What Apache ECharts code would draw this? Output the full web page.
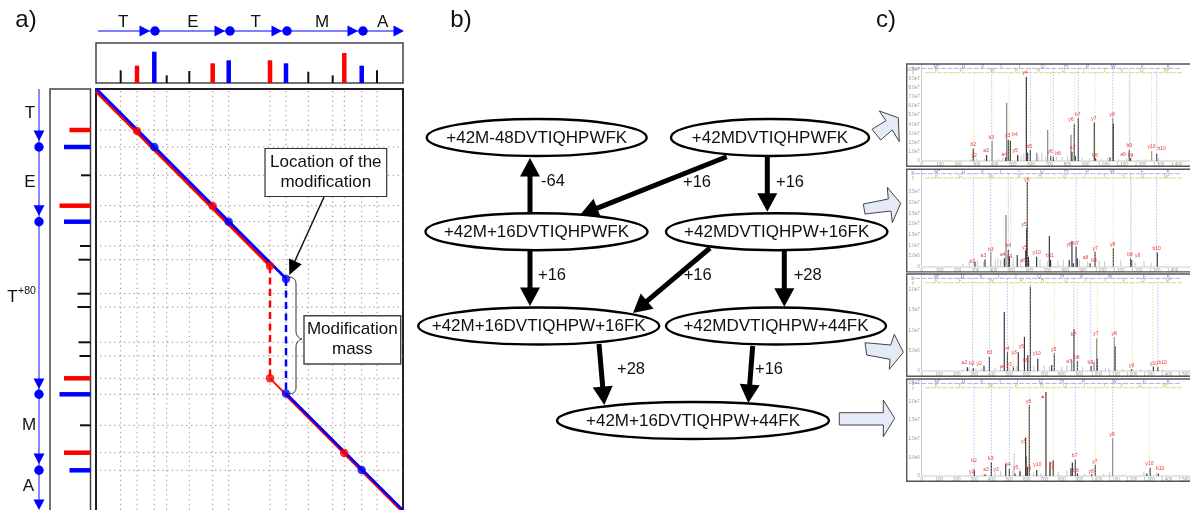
<!DOCTYPE html>
<html><head><meta charset="utf-8">
<style>html,body{margin:0;padding:0;background:#fff}#c{width:1190px;height:510px}</style>
<script src="https://cdn.jsdelivr.net/npm/echarts@6/dist/echarts.min.js"></script>
</head><body><div id="c"></div>
<script>
// ---------- Panel a data: mass position, peak height ----------
const topBlack = [[24.7,12.7],[70.7,7.7],[93.3,12],[212.3,11.3],[236.7,7.7],[281,12.7]];
const topRed   = [[41,17.3],[116.7,19.7],[174,22.7],[248.3,30]];
const topBlue  = [[58.3,31.3],[132.7,22.7],[190,19.7],[265.7,17.3]];
const leftBlack = [[86.3,9.5],[157,10.5],[170.7,12],[204.7,13],[218,13],[253.3,12],[267,11],[336.3,10.5]];
const leftRed   = [[41,21],[116.7,31],[289.3,26.5],[363.7,26.5]];
const leftBlue  = [[58,26.5],[132.7,26.5],[305.3,31],[381.3,21]];
const redTop = [[0,2],[174,176.5]];
const blueTop = [[0,-0.5],[190,189.5]];
const redJoin = [[174,289.3],[190,305.5]];
const redBottom = [[190,305.5],[310,425.5]];
const blueBottom = [[190,304.3],[310,424.3]];
const redGap = [[174,177],[174,289.3]];
const blueGap = [[190,190],[190,304.5]];
const redMatches = [[41,42],[116.7,117],[174,177],[174,289.3],[248.3,364]];
const blueMatches = [[58.3,58],[132.7,132.7],[190,190],[190,304.5],[265.7,381]];
const residuesTop = ['T','E','T','M','A'];
const residuesLeft = ['T','E','T','M','A'];

// ---------- Panel b data ----------
const peptides = ['+42M-48DVTIQHPWFK','+42MDVTIQHPWFK','+42M+16DVTIQHPWFK','+42MDVTIQHPW+16FK',
  '+42M+16DVTIQHPW+16FK','+42MDVTIQHPW+44FK','+42M+16DVTIQHPW+44FK'];
const massShifts = ['-64','+16','+16','+16','+16','+28','+28','+16'];

// ---------- Panel c data: m/z, intensity ----------
const spec1Dark = [[283,1.35],[356,.65],[461,.4],[475,2.3],[486,2.2],[526,.65],[574,9.2],[581,.9],[596,1.2],[707,.55],[722,.4],[824,1],[837,4.05],[843,.55],[859,4.65],[947,4.2],[954,.3],[1033,.4],[1051,4.05],[1139,1.2],[1146,.3],[1289,.75]];
const spec1Mid = [[386,2.2],[466,6.35],[631,.9],[691,3.4],[819,2.85],[1048,4.65],[1261,1.1]];
const spec1Noise = [[210,.15],[270,.2],[300,.25],[345,.3],[420,.25],[445,.4],[530,.5],[545,.6],[560,.8],[640,.45],[660,.9],[680,.5],[740,.5],[770,.4],[800,.6],[880,.35],[920,.3],[985,.25],[1020,.35],[1080,.2],[1125,.3],[1190,.2],[1230,.25],[1300,.3],[1340,.15]];
const spec2Dark = [[297,2.3],[353,3.4],[461,3.9],[483,7.8],[489,4.7],[533,5.5],[585,18],[589,39.8],[580,7.8],[595,4.7],[641,4.7],[712,14.4],[719,3.1],[823,3.1],[838,12],[846,1.6],[861,9.4],[868,3.9],[939,1.6],[967,7],[1069,8.6],[1165,3.9],[1171,3.1],[1314,6.7]];
const spec2Mid = [[385,7],[470,24.2]];
const spec2Noise = [[230,1.5],[265,2.7],[310,3],[345,2],[410,3.5],[425,4],[440,3],[510,4.5],[550,3.5],[600,3],[660,3.4],[700,2.6],[760,2.8],[790,3.2],[880,3.3],[925,2.5],[990,3],[1020,2.6],[1110,3],[1190,2],[1240,2.6],[1280,1.7]];
const spec3Dark = [[261,.9],[295,.65],[356,1.3],[387,3.5],[472,14.5],[490,4.6],[524,1.1],[552,4.6],[587,8.4],[606,3.9],[621,20.7],[663,3],[743,1.5],[758,4.3],[870,10.3],[890,2.5],[968,1.2],[1004,3.1],[1105,6.1],[1200,.5],[1324,1.1],[1349,.9]];
const spec3Mid = [[857,2.7],[985,2.3],[1000,8],[1101,8.4]];
const spec3Noise = [[235,.5],[270,.8],[310,.6],[340,.7],[420,.8],[450,1],[500,1],[540,1.2],[640,1.3],[700,1.4],[730,1.2],[800,1],[830,1.5],[920,1],[1050,.7],[1070,.8],[1150,.5],[1250,.5],[1300,.4],[1380,.4]];
const spec4Dark = [[301,1.6],[362,.5],[398,3.6],[480,3.2],[501,1.9],[533,.7],[562,1.2],[594,10.3],[596,5.2],[615,19],[604,2.5],[657,1.6],[710,22.5],[733,3.8],[752,4.3],[853,2.1],[861,3.6],[878,4.3],[890,.7],[971,.5],[992,3],[1286,.7],[1305,2.2],[1352,.7]];
const spec4Mid = [[1091,10]];
const spec4Noise = [[528,6],[280,.4],[350,.5],[420,1],[450,1.3],[520,1.5],[560,2],[640,1],[680,.6],[730,1.7],[780,1.2],[830,1.6],[930,.6],[1040,.5],[1075,1],[1150,.4],[1270,1.2],[1340,.8],[1400,.3]];

const ions1 = [['b2',283,1.78],['y2',287,.55],['a3',353,1.09],['b3',382,2.58],['a4',453,.73],['y3',472,2.73],['b4',512,2.84],['y5',512,1.13],['y4',567,9.6],['b5',590,1.56],['y6',704,1.02],['b6',748,.8],['y6',819,4.55],['b7',856,5.05],['a7',828,1.45],['y7',945,4.58],['b8',951,.55],['y8',1044,5.09],['a9',1104,.73],['b9',1139,1.67],['b9',1146,.55],['y10',1261,1.53],['b10',1316,1.31]];
const ions2 = [['b2',284,2.3],['a3',344,5.2],['b3',385,8],['a4',452,5.6],['b4',483,9.7],['y4',489,4.5],['y5',571,19.7],['y5',574,9],['a5',567,2.7],['y6',586,40.6],['y10',641,6.7],['b11',716,5],['y8',823,10.5],['b7',861,10.9],['a8',914,4.1],['b8',961,3],['y7',967,8.4],['y8',1065,10.3],['b9',1162,5.6],['y9',1204,5.2],['b10',1310,8.4]];
const ions3 = [['a2',244,2],['b2',286,1.7],['y2',328,1.8],['b3',387,4.4],['a4',463,1.15],['y3',499,1.5],['b4',486,5.5],['y3',528,4.4],['y5',570,5.9],['b5',596,2.5],['y10',657,4.3],['y5',754,5.3],['a7',842,2.4],['b7',867,8.9],['b8',886,3.4],['b9',964,2.1],['y7',996,9.3],['y8',1099,9.3],['y9',1200,1.2],['y10',1328,1.8],['b10',1377,2]];
const ions4 = [['y2',286,1.2],['b2',299,4.1],['a3',368,1.6],['b3',394,4.6],['y3',425,1.6],['b4',493,3],['y5',537,2.2],['y5',583,9.1],['y6',611,20],['b5',610,2],['y10',661,3],['y9',743,3],['y9',743,2],['b7',874,5.4],['b8',882,1.5],['y8',968,1.1],['y7',989,3.8],['y8',1088,11],['y10',1301,3.2],['b10',1362,2],['▲',691,21.4]];

const bSeq = ['M*','D','V','T','I','Q','H','P','W','F','K'];
const ySeq = ['K','F','W','P','H','Q','I','T','V','D','M*'];
const bRow1 = [82,229,333,435,536,664,792,909,1051,1212,1353], yRow1 = [82,216,388,521,640,777,890,1002,1097,1207,1344];
const bRow2 = [87,232,338,441,543,669,805,924,1063,1230,1375], yRow2 = [84,214,387,543,660,796,911,1019,1125,1230,1366];
const bRow3 = [86,234,339,438,539,670,802,916,1076,1272,1410], yRow3 = [82,219,400,571,691,825,939,1048,1152,1263,1410];
const bRow4 = [91,238,343,448,547,680,802,924,1101,1272,1410], yRow4 = [82,219,394,543,686,819,928,1044,1143,1248,1394];
const bGuide1 = [384,596,722,859,1048,1139,1289], yGuide1 = [287,479,707,839,951,1143,1261];
const bGuide2 = [288,385,483,861,1165,1310], yGuide2 = [496,589,967,1069,1171];
const bGuide3 = [291,387,490,621,870,966,1349], yGuide3 = [524,758,890,1004,1101,1204,1320];
const bGuide4 = [299,398,501,878,1091], yGuide4 = [615,752,992,1301];

// ---------- Layout (pixels of the figure) ----------
const nodeBox = [[536.7,137.5,110],[770,137.5,99],[536.5,231.7,111],[776.7,231.7,110.7],[538.7,326,120.5],[776,326,110],[693,420.5,136]];
const edgeLines = [[530,212,530,158],[726.7,156.7,580,215],[767.3,156.7,767.3,211.7],[530,251,530,306],[710,248,633,313],[784.3,251,784.3,306.7],[599,344,604.3,405],[752.7,346,748.3,403]];
const shiftPos = [[553,181],[697,182],[790,182],[552,275],[697.7,275.7],[807.7,275],[631,369],[769,369]];
const blockArrows = [
 [[872,129.3],[886,120.7],[879.3,111],[898.3,117.7],[899.3,141.7],[892.3,130],[880.7,140]],
 [[863.3,204],[888.3,199],[887.3,187.3],[900.7,203.3],[892.3,222.7],[891,211],[865,214]],
 [[865,342.7],[890.7,345],[894.3,334.3],[903.3,352.3],[889.3,369.3],[890,359.3],[866.7,355]],
 [[839.3,412.7],[883.3,412.7],[883.3,400],[894.7,418.3],[883.3,436.7],[883.3,425],[839.3,425]]];
const topNodes = [155,230,287,363], topHeads = [150,225,282,358,404];
const topLetterX = [123.3,193,255.7,322,382.7];
const leftNodes = [147,221.7,394.3,470.3], leftHeads = [141,215.7,389,464,510];
const leftLetterY = [113,182.3,297,425,486.7], leftLetterX = [30,30,12.5,29,28.3];
const frames = [{top:64,base:161,max:10.58},{top:169.3,base:266.7,max:45.6},{top:274,base:371,max:23.85},{top:379,base:476,max:26}];

const F = '"Liberation Sans",Arial,sans-serif';
const hidden = (gridIndex,min,max,inverse)=>({type:'value',gridIndex,min,max,inverse:!!inverse,show:false});
const OB = {outerBoundsMode:'none',containLabel:false};
const grid = [
 {left:0,top:0,width:1190,height:510,show:false,...OB},
 {left:96,top:43,width:307,height:40,show:true,borderColor:'#444',borderWidth:1.5,backgroundColor:'#fff',...OB},
 {left:50,top:89,width:40.5,height:425,show:true,borderColor:'#444',borderWidth:1.5,backgroundColor:'#fff',...OB},
 {left:96,top:89,width:307,height:425,show:true,borderColor:'#222',borderWidth:2,backgroundColor:'#fff',...OB}
];
const xAxis = [hidden(0,0,1190),hidden(1,0,307),hidden(2,0,40.5,true),hidden(3,0,307)];
const yAxis = [hidden(0,0,510,true),hidden(1,0,40),hidden(2,0,425,true),hidden(3,0,425,true)];

const stick = (color,width,horizontal)=>(p,api)=>{
  const pos=api.value(0), amt=api.value(1);
  const a=api.coord(horizontal?[0,pos]:[pos,0]), b=api.coord(horizontal?[amt,pos]:[pos,amt]);
  return {type:'line',shape:{x1:a[0],y1:a[1],x2:b[0],y2:b[1]},style:{stroke:color,lineWidth:width}};
};
const series = [];
const sticks=(data,g,color,width,horizontal,z)=>series.push({type:'custom',xAxisIndex:g,yAxisIndex:g,data,z:z||3,silent:true,renderItem:stick(color,width,horizontal)});
sticks(topBlack,1,'#111',2); sticks(topRed,1,'#f00',4.5); sticks(topBlue,1,'#00f',4.5);
sticks(leftBlack,2,'#111',2,true); sticks(leftRed,2,'#f00',4.5,true); sticks(leftBlue,2,'#00f',4.5,true);

// dotted guides of the matrix, from the same peak lists
const guideX=[...topBlack,...topRed,...topBlue].map(d=>[d[0]]), guideY=[...leftBlack,...leftRed,...leftBlue].map(d=>[d[0]]);
const dotted={stroke:'#8a8a8a',lineWidth:1,lineDash:[1.2,3.6]};
series.push({type:'custom',xAxisIndex:3,yAxisIndex:3,data:guideX,z:2,silent:true,renderItem:(p,api)=>{
  const a=api.coord([api.value(0),2]),b=api.coord([api.value(0),425]);
  return {type:'line',shape:{x1:a[0],y1:a[1],x2:b[0],y2:b[1]},style:dotted};}});
series.push({type:'custom',xAxisIndex:3,yAxisIndex:3,data:guideY,z:2,silent:true,renderItem:(p,api)=>{
  const a=api.coord([4,api.value(0)]),b=api.coord([307,api.value(0)]);
  return {type:'line',shape:{x1:a[0],y1:a[1],x2:b[0],y2:b[1]},style:dotted};}});
const path=(data,color,width,dash,z)=>series.push({type:'line',xAxisIndex:3,yAxisIndex:3,data,showSymbol:false,symbol:'none',z:z,silent:true,animation:false,
  lineStyle:{color,width,type:dash?[7,4.5]:'solid',cap:'butt'}});
path(redGap,'#f00',2.5,true,4); path(blueGap,'#00f',2.5,true,4);
path(redTop,'#f00',3.5,false,5); path(blueTop,'#00f',2.6,false,6);
path(redJoin,'#f00',1.8,false,5); path(redBottom,'#f00',3.5,false,5); path(blueBottom,'#00f',2.6,false,6);
const dots=(data,color)=>series.push({type:'scatter',xAxisIndex:3,yAxisIndex:3,data,symbol:'circle',symbolSize:8.5,z:7,silent:true,itemStyle:{color}});
dots(redMatches,'#f00'); dots(blueMatches,'#00f');

// ---------- Panel c: spectrum frames ----------
const specData=[
 {dark:spec1Dark,mid:spec1Mid,noise:spec1Noise,ions:ions1,bRow:bRow1,yRow:yRow1,bG:bGuide1,yG:yGuide1,k:.1823,ticks:1,fmt:v=>v===0?'0':v.toFixed(1)+'e7'},
 {dark:spec2Dark,mid:spec2Mid,noise:spec2Noise,ions:ions2,bRow:bRow2,yRow:yRow2,bG:bGuide2,yG:yGuide2,k:.1793,ticks:5,fmt:v=>v===0?'0':v>35?'':(v<10?v.toFixed(1)+'e6':(v/10).toFixed(1)+'e7')},
 {dark:spec3Dark,mid:spec3Mid,noise:spec3Noise,ions:ions3,bRow:bRow3,yRow:yRow3,bG:bGuide3,yG:yGuide3,k:.175,ticks:5,fmt:v=>v===0?'0':(v<10?v.toFixed(1)+'e6':(v/10).toFixed(1)+'e7')},
 {dark:spec4Dark,mid:spec4Mid,noise:spec4Noise,ions:ions4,bRow:bRow4,yRow:yRow4,bG:bGuide4,yG:yGuide4,k:.175,ticks:5,fmt:v=>v===0?'0':(v<10?v.toFixed(1)+'e6':(v/10).toFixed(1)+'e7')}
];
specData.forEach((s,i)=>{
  const fr=frames[i], g=4+i, left=921.7, w=1190-left;
  grid.push({left,top:fr.top,width:w,height:fr.base-fr.top,show:false,...OB});
  xAxis.push({type:'value',gridIndex:g,min:0,max:w/s.k,interval:100,splitLine:{show:false},axisTick:{show:false},
    axisLine:{show:true,onZero:false,lineStyle:{color:'#ddd',width:1.5}},axisLabel:{show:true,fontSize:4.5,color:'#999',margin:1.5,fontFamily:F,showMaxLabel:false,hideOverlap:false}});
  yAxis.push({type:'value',gridIndex:g,min:0,max:fr.max,interval:s.ticks,splitLine:{show:false},axisTick:{show:false},
    axisLine:{show:true,onZero:false,lineStyle:{color:'#ccc',width:1}},axisLabel:{show:true,fontSize:4.5,color:'#999',margin:2,fontFamily:F,showMaxLabel:false,formatter:s.fmt}});
  sticks(s.noise,g,'#c8c8c8',1); sticks(s.mid,g,'#8e8e8e',1.3); sticks(s.dark,g,'#3a3a3a',1.2);
  // header rows, ion guides, fragment labels
  series.push({type:'custom',xAxisIndex:g,yAxisIndex:g,data:[[0]],z:5,silent:true,renderItem:(p,api)=>{
    const top=fr.top, base=fr.base, ch=[];
    const X=m=>api.coord([m,0])[0], rowB=top+4.4, rowY=top+8.7;
    const vl=(m,y,c)=>({type:'line',shape:{x1:X(m),y1:y,x2:X(m),y2:base},style:{stroke:c,lineWidth:.7,lineDash:[1.5,1.5]}});
    s.bG.forEach(m=>ch.push(vl(m,rowB,'#9d9dff')));
    s.yG.forEach(m=>ch.push(vl(m,rowY,'#d9d98a')));
    ch.push({type:'line',shape:{x1:915,y1:rowB,x2:1180,y2:rowB},style:{stroke:'#8f8fee',lineWidth:.7,lineDash:[5,1.5]}});
    ch.push({type:'line',shape:{x1:925,y1:rowY,x2:1183,y2:rowY},style:{stroke:'#cfcf70',lineWidth:.8,lineDash:[5,1]}});
    const tx=(t,x,y,c,size)=>({type:'text',style:{text:t,x,y,fill:c,fontSize:size||5,fontFamily:F,textAlign:'center',textVerticalAlign:'middle',align:'center',verticalAlign:'middle'}});
    ch.push(tx('b',913,rowB,'#7777dd'),tx('y',913,rowY,'#bbbb55'));
    s.bRow.forEach((m,j)=>ch.push(tx(bSeq[j],X(m),rowB-1.6,'#7777dd')));
    s.yRow.forEach((m,j)=>ch.push(tx(ySeq[j],X(m),rowY-1.6,'#bbbb55')));
    s.ions.forEach(d=>{const c=api.coord([d[1],d[2]]);ch.push(tx(d[0],c[0],c[1],'#e33',5));});
    return {type:'group',children:ch};}});
});

// ---------- Annotation layer in figure pixels ----------
const arrowHead=(P,x1,y1,x2,y2,len,half,color)=>{
  const d=Math.hypot(x2-x1,y2-y1),ux=(x2-x1)/d,uy=(y2-y1)/d,bx=x2-ux*len,by=y2-uy*len;
  return {type:'polygon',shape:{points:[[x2,y2],[bx-uy*half,by+ux*half],[bx+uy*half,by-ux*half]].map(q=>P(q))},style:{fill:color}};
};
series.push({type:'custom',xAxisIndex:0,yAxisIndex:0,data:[[0]],z:20,silent:true,renderItem:(p,api)=>{
  const P=q=>api.coord(q), ch=[];
  const tx=(t,x,y,size,c)=>{const q=P([x,y]);return {type:'text',style:{text:t,x:q[0],y:q[1],fill:c||'#111',fontSize:size,fontFamily:F,textAlign:'center',textVerticalAlign:'middle',align:'center',verticalAlign:'middle'}};};
  const ln=(a,b,c,w,dash)=>{const A=P(a),B=P(b);return {type:'line',shape:{x1:A[0],y1:A[1],x2:B[0],y2:B[1]},style:{stroke:c,lineWidth:w,lineDash:dash||null}};};
  const dot=(x,y,r,c)=>{const q=P([x,y]);return {type:'circle',shape:{cx:q[0],cy:q[1],r},style:{fill:c}};};
  const rect=(x,y,w,h,st)=>{const q=P([x,y]);return {type:'rect',shape:{x:q[0],y:q[1],width:w,height:h},style:st};};
  const bez=(a,c1,c2,b)=>{const A=P(a),B=P(b),C=P(c1),D=P(c2);return {type:'bezierCurve',shape:{x1:A[0],y1:A[1],x2:B[0],y2:B[1],cpx1:C[0],cpy1:C[1],cpx2:D[0],cpy2:D[1]},style:{stroke:'#333',lineWidth:1,fill:null}};};
  ch.push(tx('a)',26,20,24),tx('b)',461,20,24),tx('c)',886,20,24));
  // residue axes
  ch.push(ln([98,31],[396,31],'#00f',1.2));
  topHeads.forEach(x=>ch.push(arrowHead(P,x-10,31,x,31,10.5,5.5,'#00f')));
  topNodes.forEach(x=>ch.push(dot(x,31,4.7,'#00f')));
  residuesTop.forEach((t,i)=>ch.push(tx(t,topLetterX[i],22,17)));
  ch.push(ln([39,89],[39,502],'#3c3cff',1.2));
  leftHeads.forEach(y=>ch.push(arrowHead(P,39,y-10,39,y,10.5,5.5,'#00f')));
  leftNodes.forEach(y=>ch.push(dot(39,y,4.7,'#00f')));
  residuesLeft.forEach((t,i)=>ch.push(tx(t,leftLetterX[i],leftLetterY[i],17)));
  ch.push(tx('+80',27,290.7,10.5));
  // callouts
  ch.push(ln([324,197],[294,263],'#111',1.5),arrowHead(P,324,197,289.3,275,15,7,'#000'));
  ch.push(rect(265,148.5,121.7,48,{fill:'#fff',stroke:'#333',lineWidth:1.2}));
  ch.push(tx('Location of the',325.8,162.5,17),tx('modification',325.8,182.5,17));
  ch.push(bez([288,277],[293,277],[296,279],[296,284]),ln([296,284],[296,331],'#333',1),bez([296,331],[296,335],[298,338],[302,339]),
          bez([302,339],[298,340],[296,343],[296,347]),ln([296,347],[296,388],'#333',1),bez([296,388],[296,392],[293,394],[288,394]));
  ch.push(rect(304,315.7,96.7,48.3,{fill:'#fff',stroke:'#444',lineWidth:1.4}));
  ch.push(tx('Modification',352.3,329.5,17),tx('mass',352.3,349.5,17));
  // network
  edgeLines.forEach(e=>{
    const d=Math.hypot(e[2]-e[0],e[3]-e[1]),t=(d-16)/d;
    ch.push(ln([e[0],e[1]],[e[0]+(e[2]-e[0])*t,e[1]+(e[3]-e[1])*t],'#000',5),arrowHead(P,e[0],e[1],e[2],e[3],18.5,10,'#000'));
  });
  nodeBox.forEach((n,i)=>{const q=P([n[0],n[1]]);
    ch.push({type:'ellipse',shape:{cx:q[0],cy:q[1],rx:n[2],ry:18.5},style:{fill:'none',stroke:'#000',lineWidth:2.4}});
    ch.push(tx(peptides[i],n[0],n[1]+.8,17));});
  massShifts.forEach((t,i)=>ch.push(tx(t,shiftPos[i][0],shiftPos[i][1],16.5)));
  // block arrows and spectrum frames
  blockArrows.forEach(a=>ch.push({type:'polygon',shape:{points:a.map(P)},style:{fill:'#e4eaf6',stroke:'#444',lineWidth:1}}));
  frames.forEach(fr=>ch.push(rect(906.7,fr.top,290,fr.base+5.2-fr.top,{fill:'none',stroke:'#555',lineWidth:1.4})));
  return {type:'group',children:ch};}});

const chart=echarts.init(document.getElementById('c'),null,{renderer:'canvas'});
chart.setOption({animation:false,backgroundColor:'#fff',tooltip:{show:false},grid,xAxis,yAxis,series});
</script></body></html>
